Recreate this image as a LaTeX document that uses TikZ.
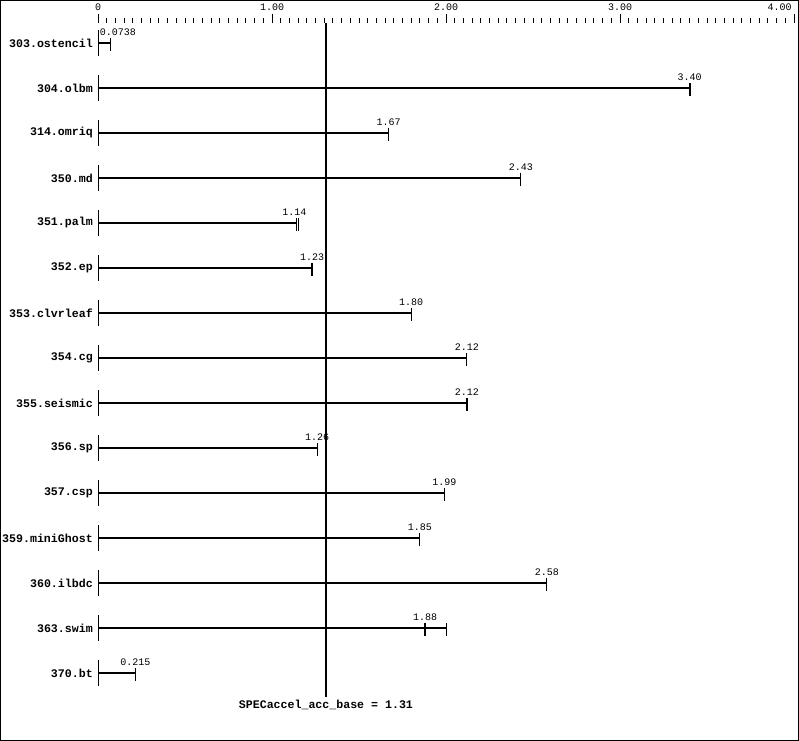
\documentclass[tikz,border=0pt]{standalone}
\usepackage{fontspec}
\setmainfont{Liberation Mono}
\tikzset{
  rowlabel/.style={font=\fontsize{8.7}{10}\selectfont\bfseries, anchor=east, inner sep=0pt},
  vallabel/.style={font=\fontsize{7.5}{9}\selectfont, anchor=south, inner sep=0pt},
  bar/.style={line width=1.5pt},
  thickend/.style={line width=1.5pt},
  thinend/.style={line width=0.75pt},
}
\begin{document}
\begin{tikzpicture}[x=0.75pt,y=-0.75pt]
	\useasboundingbox (0,0) rectangle (799,741);
	% Frame
	\draw[thinend] (0.5,0.5) rectangle (798.5,740.5);
	% Scale ticks on top, every 0.05
	\foreach \t in {0,...,80} {
		\draw[thinend] ({98+\t*8.7},18) -- ({98+\t*8.7},23);
	}
	\foreach \t/\label in {0/0, 1/1.00, 2/2.00, 3/3.00} {
		\draw[thinend] ({98+\t*174},14) -- ({98+\t*174},23);
		\node[vallabel] (ax\t) at ({98+\t*174},11) {\label};
	}
	\draw[thinend] (794,14) -- (794,23);
	\node[vallabel, anchor=south east] (ax4) at (792,11) {4.00};
	% Benchmarks: ratio bars
	\foreach \y/\id/\bench/\val/\w/\sh in {43/303/303.ostencil/0.0738/thinend/7, 88/304/304.olbm/3.40/thickend/0,
		133/314/314.omriq/1.67/thinend/0, 178/350/350.md/2.43/thinend/0, 223/351/351.palm/1.14/thinend/-2,
		268/352/352.ep/1.23/thickend/0, 313/353/353.clvrleaf/1.80/thinend/0, 358/354/354.cg/2.12/thinend/0,
		403/355/355.seismic/2.12/thickend/0, 448/356/356.sp/1.26/thinend/0, 493/357/357.csp/1.99/thinend/0,
		538/359/359.miniGhost/1.85/thinend/0, 583/360/360.ilbdc/2.58/thinend/0, 628/363/363.swim/1.88/thickend/0,
		673/370/370.bt/0.215/thinend/0} {
		\node[rowlabel] (name\id) at (93,\y) {\bench};
		\draw[thinend] (98,\y-13) -- (98,\y+13);
		\coordinate (o\id) at (98,\y);
		\coordinate (e\id) at ({98+\val*174},\y);
		\draw[bar] (o\id) -- (e\id);
		\draw[\w] ({98+\val*174},\y-5) -- ({98+\val*174},\y+8);
		\node[vallabel] (val\id) at ({98+\val*174+\sh},\y-7) {\val};
	}
	% Second run of 351.palm
	\draw[thinend] ({98+1.153*174},218) -- ({98+1.153*174},231);
	% Other run of 363.swim
	\coordinate (f363) at ({98+2.00*174},628);
	\draw[bar] (e363) -- (f363);
	\draw[thinend] ({98+2.00*174},623) -- ({98+2.00*174},636);
	% Overall mean
	\coordinate (mtop) at ({98+1.31*174},23);
	\coordinate (mbot) at ({98+1.31*174},697);
	\draw[bar] (mtop) -- (mbot);
	\node[font=\fontsize{8.7}{10}\selectfont\bfseries, inner sep=0pt] (mean) at ({98+1.31*174},705) {SPECaccel\_acc\_base = 1.31};
\end{tikzpicture}
\end{document}
